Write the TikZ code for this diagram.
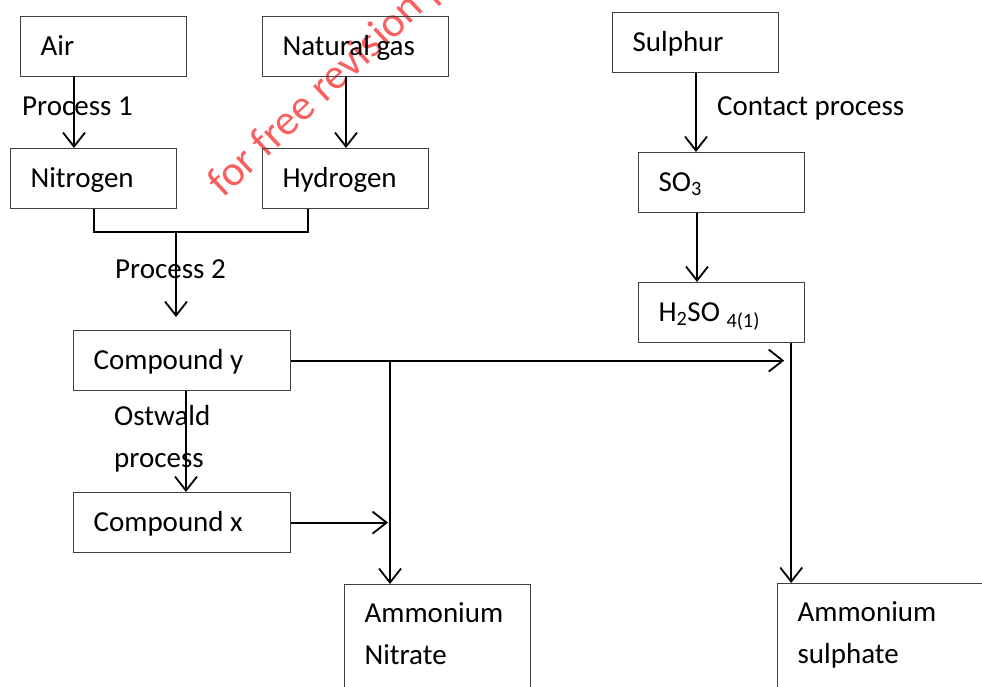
\documentclass[tikz,border=0pt]{standalone}
\usepackage{fontspec}
\setmainfont{Carlito}
\usetikzlibrary{arrows.meta}
\definecolor{wmred}{RGB}{250,95,95}

\begin{document}
\begin{tikzpicture}[x=1pt,y=-1pt,
    font=\fontsize{29}{42}\selectfont,
    chembox/.style={draw=black!75, line width=1.2pt, anchor=north west, inner xsep=20pt, inner ysep=0pt, align=flush left, text width=#1-40pt, minimum height=60pt, text height=20pt, text depth=3pt},
    tallbox/.style={minimum height=0pt, inner ysep=10pt, text height=28pt, text depth=110pt},
    lbl/.style={anchor=base west, inner sep=0pt, align=flush left},
    wmark/.style={anchor=base west, rotate=43, inner sep=0pt, text=wmred, font=\fontsize{43}{43}\selectfont},
    arr/.style={line width=1.8pt, -{Straight Barb[length=14pt,width=22pt]}},
    joint/.style={line width=1.8pt}]
    \useasboundingbox (0,0) rectangle (982,686);
    \clip (0,0) rectangle (982,686);

    \node [wmark] (wm) at (223,199) {for free revision p};

    \node [chembox=166pt] (air) at (20,16) {Air};
    \node [chembox=186pt] (gas) at (262,16) {Natural gas};
    \node [chembox=166pt] (nitrogen) at (10,148) {Nitrogen};
    \node [chembox=166pt] (hydrogen) at (262,148) {Hydrogen};
    \node [chembox=166pt] (sulphur) at (612,12) {Sulphur};
    \node [chembox=166pt] (so3) at (638,152) {SO\textsubscript{3}};
    \node [chembox=166pt] (h2so4) at (638,282) {H\textsubscript{2}SO \textsubscript{4(1)}};
    \node [chembox=217pt] (compy) at (73,330) {Compound y};
    \node [chembox=217pt] (compx) at (73,492) {Compound x};
    \node [chembox=186pt, tallbox] (nitrate) at (344,584) {Ammonium\\Nitrate};
    \node [chembox=240pt, tallbox] (sulphate) at (777,583) {Ammonium\\sulphate};

    \node [lbl] (p1) at (22,115) {Process 1};
    \node [lbl] (p2) at (115,278) {Process 2};
    \node [lbl] (ostwald) at (114,467) {Ostwald\\process};
    \node [lbl] (contact) at (717,115) {Contact process};

    \coordinate (join) at (176,232);
    \coordinate (hdrop) at ([xshift=-14pt]h2so4.south east);
    \coordinate (tee) at ([xshift=46pt]nitrate.north west |- compy.east);

    \draw[arr] ([xshift=54pt]air.south west) -- ([xshift=64pt]nitrogen.north west);
    \draw[arr] ([xshift=84pt]gas.south west) -- ([xshift=84pt]hydrogen.north west);
    \draw[joint] (nitrogen.south) |- (join) -| ([xshift=46pt]hydrogen.south west);
    \draw[arr, shorten >=13pt] (join) -- (join |- compy.north);
    \draw[arr] ([xshift=113pt]compy.south west) -- ([xshift=113pt]compx.north west);
    \draw[arr] (compy.east) -- ([xshift=-7pt]compy.east -| hdrop);
    \draw[arr] (tee) -- ([xshift=46pt]nitrate.north west);
    \draw[arr] (compx.east) -- ([xshift=-2pt]compx.east -| tee);
    \draw[arr] ([xshift=84pt]sulphur.south west) -- ([xshift=84pt]sulphur.south west |- so3.north);
    \draw[arr] ([xshift=59pt]so3.south west) -- ([xshift=59pt]so3.south west |- h2so4.north);
    \draw[arr] (hdrop) -- (hdrop |- sulphate.north);

\end{tikzpicture}
\end{document}
